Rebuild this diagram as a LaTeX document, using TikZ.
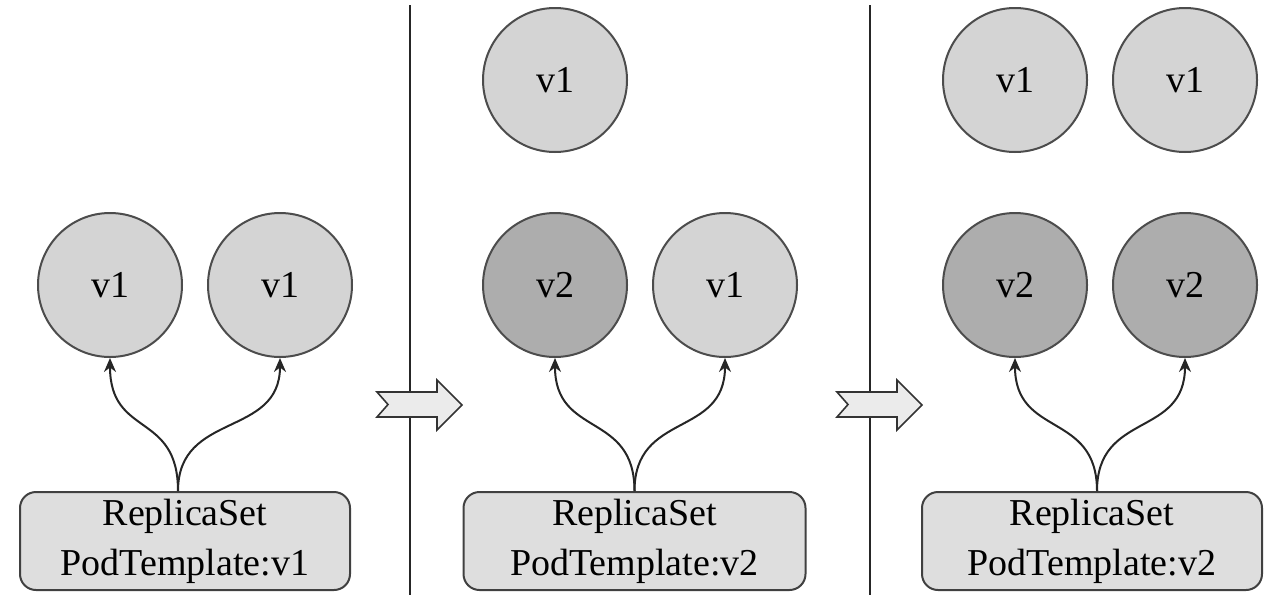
\documentclass[tikz,border=0pt]{standalone}
\usepackage{fontspec}
\setmainfont{Liberation Serif}
\usetikzlibrary{arrows.meta,calc}
\begin{document}
\begin{tikzpicture}[x=0.5pt,y=-0.5pt,
  pod/.style={circle, draw=black!70, line width=1pt, minimum size=72pt, inner sep=0pt, font=\fontsize{19}{23}\selectfont},
  light/.style={pod, fill=black!17},
  dark/.style={pod, fill=black!32},
  rsbox/.style={draw=black!75, line width=1pt, rounded corners=8pt, fill=black!13, minimum height=49pt, inner sep=0pt, align=center, font=\fontsize{19}{25}\selectfont},
  link/.style={-{Stealth[length=7pt,width=6pt]}, line width=1pt, black!85},
  divider/.style={line width=1pt, black!85},
  blockarrow/.style={draw=black!80, line width=0.8pt, fill=black!8}]
\useasboundingbox (0,0) rectangle (1274,600);

% dividers
\draw[divider] (410,5) -- (410,595);
\draw[divider] (870,5) -- (870,595);

% panel 1
\node[light] (a1) at (110,285) {v1};
\node[light] (a2) at (280,285) {v1};
\node[rsbox, minimum width=165pt] (b1) at (185,541) {ReplicaSet\\PodTemplate:v1};
\coordinate (s1) at ($(b1.north)+(-7,0)$);
\draw[link] (s1) .. controls +(0,-80) and +(0,80) .. (a1.south);
\draw[link] (s1) .. controls +(0,-80) and +(0,80) .. (a2.south);

% panel 2
\node[light] (c0) at (555,80) {v1};
\node[dark] (c1) at (555,285) {v2};
\node[light] (c2) at (725,285) {v1};
\node[rsbox, minimum width=171pt] (b2) at (634.5,541) {ReplicaSet\\PodTemplate:v2};
\draw[link] (b2.north) .. controls +(0,-80) and +(0,80) .. (c1.south);
\draw[link] (b2.north) .. controls +(0,-80) and +(0,80) .. (c2.south);

% panel 3
\node[light] (d01) at (1015,80) {v1};
\node[light] (d02) at (1185,80) {v1};
\node[dark] (d1) at (1015,285) {v2};
\node[dark] (d2) at (1185,285) {v2};
\node[rsbox, minimum width=170pt] (b3) at (1092,541) {ReplicaSet\\PodTemplate:v2};
\coordinate (s3) at ($(b3.north)+(5,0)$);
\draw[link] (s3) .. controls +(0,-80) and +(0,80) .. (d1.south);
\draw[link] (s3) .. controls +(0,-80) and +(0,80) .. (d2.south);

% block arrows
\foreach \dx in {0,460}{
  \draw[blockarrow, xshift=\dx*0.5pt] (377,392) -- (437,392) -- (437,380) -- (462,405) -- (437,430) -- (437,417) -- (377,417) -- (388,404.5) -- cycle;
}
\end{tikzpicture}
\end{document}
